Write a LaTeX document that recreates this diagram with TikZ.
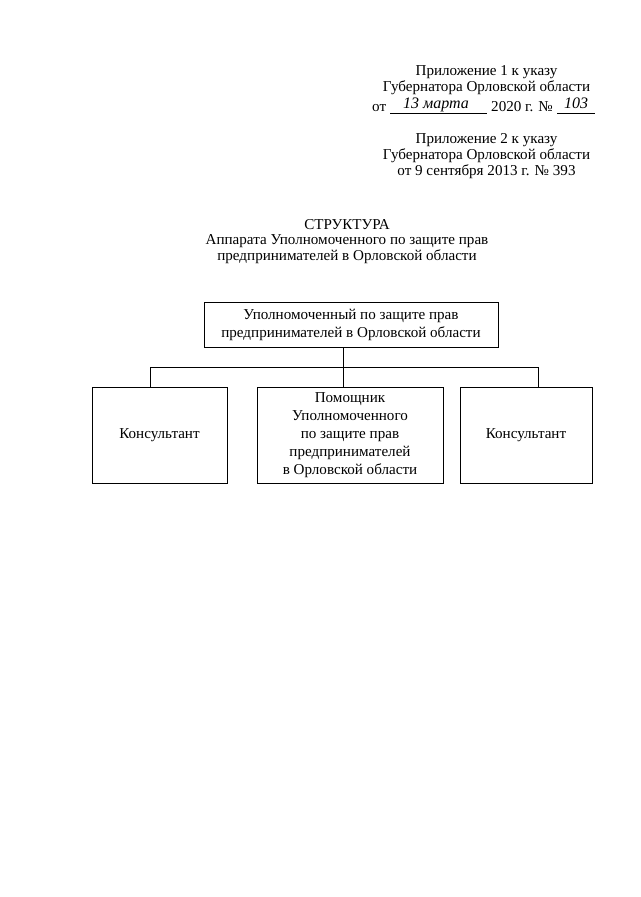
\documentclass[tikz,border=0pt]{standalone}
\usepackage{fontspec}
\setmainfont{Liberation Serif}
\begin{document}
\begin{tikzpicture}[x=1pt,y=-1pt,
  txt/.style={font=\fontsize{15.1}{16}\selectfont, inner sep=0pt, align=center},
  box/.style={draw, line width=0.8pt, font=\fontsize{15.1}{18}\selectfont, align=center, inner sep=0pt},
  hand/.style={font=\fontsize{16}{16}\selectfont\itshape, inner sep=0pt},
  conn/.style={line width=0.8pt}]
\useasboundingbox (0,0) rectangle (640,897);
% header
\node[txt] (h1) at (486.5,72) {Приложение 1 к указу};
\node[txt] (h2) at (486.5,88) {Губернатора Орловской области};
\node[txt, anchor=base west] (ot) at (372,111) {от};
\coordinate (u1a) at (390,113);
\coordinate (u1b) at (487,113);
\draw[line width=0.6pt] (u1a) -- (u1b);
\node[hand, anchor=base] (d1) at (436,108) {13 марта};
\node[txt, anchor=base west] (yr) at (491,111) {2020 г. №};
\coordinate (u2a) at (557,113);
\coordinate (u2b) at (595,113);
\draw[line width=0.6pt] (u2a) -- (u2b);
\node[hand, anchor=base] (d2) at (576,108) {103};
\node[txt] (h4) at (486.5,140) {Приложение 2 к указу};
\node[txt] (h5) at (486.5,156) {Губернатора Орловской области};
\node[txt] (h6) at (486.5,172) {от 9 сентября 2013 г. № 393};
% title
\node[txt] (t1) at (347,225) {СТРУКТУРА};
\node[txt] (t2) at (347,241) {Аппарата Уполномоченного по защите прав};
\node[txt] (t3) at (347,257) {предпринимателей в Орловской области};
% boxes
\node[box, minimum width=294pt, minimum height=45pt] (top) at (351,324.5)
  {Уполномоченный по защите прав\\предпринимателей в Орловской области};
\node[box, minimum width=135pt, minimum height=96pt] (left) at (159.5,435) {Консультант};
\node[box, minimum width=186pt, minimum height=96pt] (mid) at (350,435)
  {Помощник\\Уполномоченного\\по защите прав\\предпринимателей\\в Орловской области};
\node[box, minimum width=132pt, minimum height=96pt] (right) at (526,435) {Консультант};
% connectors
\coordinate (j) at (343,367);
\draw[conn] (top.south -| j) -- (j);
\draw[conn] (left.north -| 150,0) |- (j);
\draw[conn] (right.north -| 538,0) |- (j);
\draw[conn] (j) -- (mid.north -| j);
\end{tikzpicture}
\end{document}
